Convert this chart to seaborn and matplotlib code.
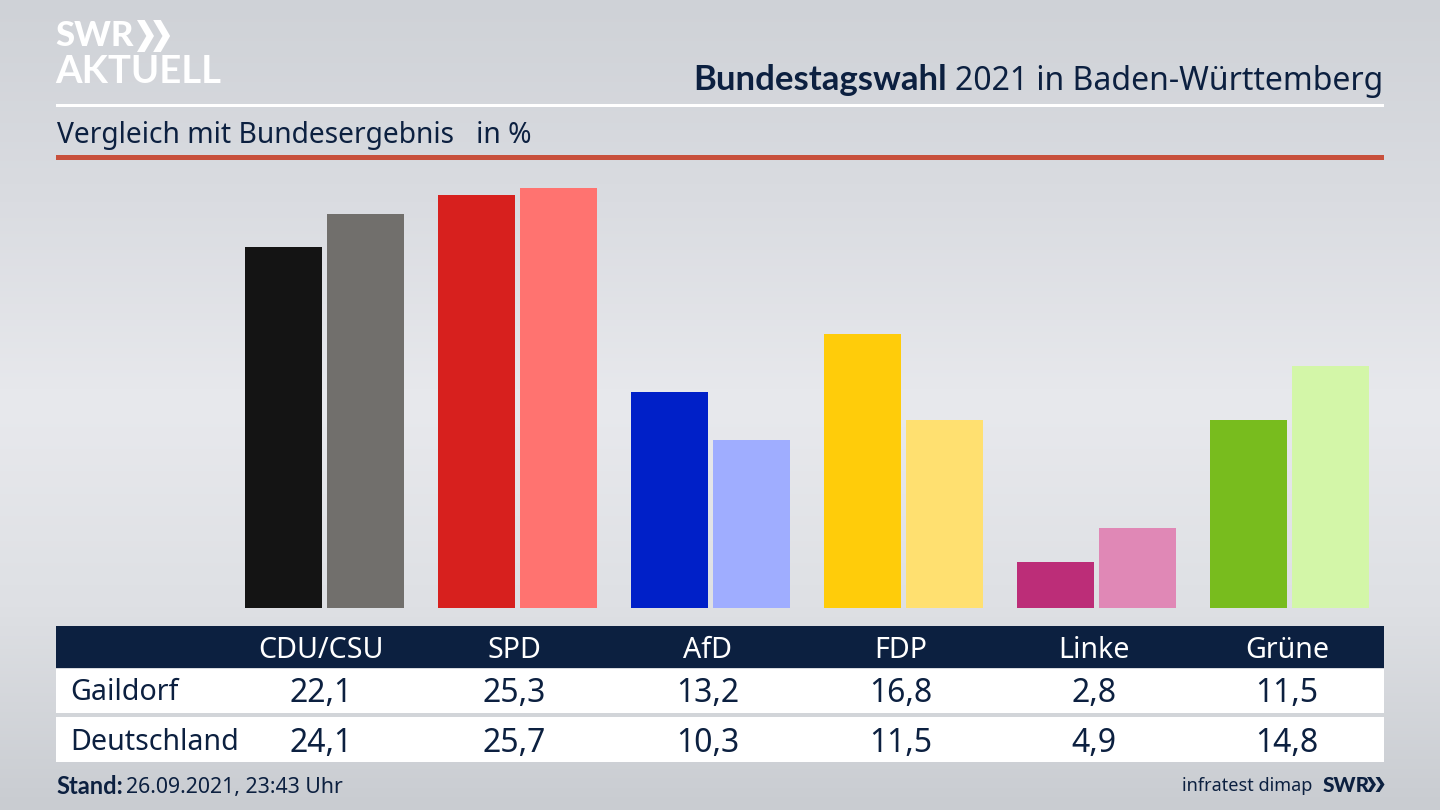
# -*- coding: utf-8 -*-
import numpy as np
import pandas as pd
import seaborn as sns
import matplotlib.pyplot as plt
from matplotlib.colors import LinearSegmentedColormap
from matplotlib.patches import Polygon, Rectangle

# === data ===
parties = ["CDU/CSU", "SPD", "AfD", "FDP", "Linke", "Grüne"]
gaildorf = [22.1, 25.3, 13.2, 16.8, 2.8, 11.5]
deutschland = [24.1, 25.7, 10.3, 11.5, 4.9, 14.8]
row_names = ["Gaildorf", "Deutschland"]
colors_gaildorf = ["#141414", "#d7201e", "#0020c8", "#ffcc0a", "#bc2d78", "#78bc1e"]
colors_deutschland = ["#716f6c", "#ff7370", "#9fadff", "#ffe070", "#e088b6", "#d3f6a8"]

NAVY = "#0c2040"
FONT = "Noto Sans"
BOLD = "Lato"


def chevrons(axis, x, y, w, h, color):
    # the two arrows of the SWR logo
    for dx in (0, w * 0.95):
        axis.add_patch(Polygon(
            [(x + dx, y), (x + dx + w * 0.45, y), (x + dx + w, y + h / 2),
             (x + dx + w * 0.45, y + h), (x + dx, y + h), (x + dx + w * 0.55, y + h / 2)],
            closed=True, fc=color, ec="none",
        ))


df = pd.DataFrame({
    "Partei": parties * 2,
    "Wert": gaildorf + deutschland,
    "Gebiet": [row_names[0]] * 6 + [row_names[1]] * 6,
})

sns.set_theme(style="white")
plt.rcParams["font.family"] = [FONT, "DejaVu Sans"]

W, H = 1440, 810
fig = plt.figure(figsize=(W / 100, H / 100), dpi=100)

# background + all the furniture, in pixel coordinates
bg = fig.add_axes([0, 0, 1, 1], zorder=0)
bg.set_xlim(0, W)
bg.set_ylim(H, 0)
bg.axis("off")
grad = LinearSegmentedColormap.from_list(
    "bg", [(0, "#cfd2d7"), (0.25, "#dadce1"), (0.5, "#e8e9ed"), (0.75, "#dee0e4"), (1, "#c9ccd1")]
)
bg.imshow(np.linspace(0, 1, 256).reshape(-1, 1), cmap=grad, aspect="auto", extent=(0, W, H, 0))

bg.add_patch(Rectangle((56, 104), 1328, 3, fc="white", ec="none"))
bg.add_patch(Rectangle((56, 155), 1328, 5, fc="#c8503c", ec="none"))
bg.add_patch(Rectangle((56, 626), 1328, 42, fc=NAVY, ec="none"))
bg.add_patch(Rectangle((56, 669), 1328, 44, fc="white", ec="none"))
bg.add_patch(Rectangle((56, 717), 1328, 45, fc="white", ec="none"))

# logo
bg.text(55, 36, "SWR", color="white", fontsize=25, family=BOLD, fontweight="black", va="center", ha="left")
chevrons(bg, 137, 20, 17, 32, "white")
bg.text(55, 72, "AKTUELL", color="white", fontsize=27.5, family=BOLD, fontweight="bold", va="center", ha="left")

# headings
t = bg.text(1383, 81, "2021 in Baden-Württemberg", color=NAVY, fontsize=23, ha="right", va="center")
fig.canvas.draw()
box = t.get_window_extent()
bg.text(box.x0 - 8, 80, "Bundestagswahl", color=NAVY, fontsize=25, family=BOLD, fontweight="bold", ha="right", va="center")
bg.text(57, 135, "Vergleich mit Bundesergebnis   in %", color=NAVY, fontsize=20.3, ha="left", va="center")

# bars
ax = fig.add_axes([228 / W, (H - 608) / H, 1158 / W, 440 / H], zorder=1)
ax.patch.set_alpha(0)
sns.barplot(
    data=df, x="Partei", y="Wert", hue="Gebiet", order=parties, hue_order=row_names,
    width=0.85, gap=0.061, legend=False, ax=ax, saturation=1,
)
for container, cols in zip(ax.containers, [colors_gaildorf, colors_deutschland]):
    for bar, c in zip(container, cols):
        bar.set_facecolor(c)
        bar.set_edgecolor("none")
ax.set_xlim(-0.5, 5.5)
ax.set_ylim(0, 440 / 16.33)
ax.axis("off")

# table text
for i, party in enumerate(parties):
    x = 321 + 193.2 * i
    bg.text(x, 650, party, color="white", fontsize=20.6, ha="center", va="center")
    bg.text(x, 694, f"{gaildorf[i]:.1f}".replace(".", ","), color=NAVY, fontsize=23, ha="center", va="center")
    bg.text(x, 743, f"{deutschland[i]:.1f}".replace(".", ","), color=NAVY, fontsize=23, ha="center", va="center")
bg.text(70, 693, row_names[0], color=NAVY, fontsize=20.6, ha="left", va="center")
bg.text(70, 742, row_names[1], color=NAVY, fontsize=20.6, ha="left", va="center")

# footer
bg.text(56, 787, "Stand:", color=NAVY, fontsize=17, family=BOLD, fontweight="bold", ha="left", va="center")
bg.text(126, 787, "26.09.2021, 23:43 Uhr", color=NAVY, fontsize=15.3, ha="left", va="center")
bg.text(1312, 786, "infratest dimap", color=NAVY, fontsize=13, ha="right", va="center")
bg.text(1323, 785, "SWR", color=NAVY, fontsize=15, family=BOLD, fontweight="black", ha="left", va="center")
chevrons(bg, 1367, 777, 9, 15, NAVY)

fig.savefig("out.png", dpi=100)
